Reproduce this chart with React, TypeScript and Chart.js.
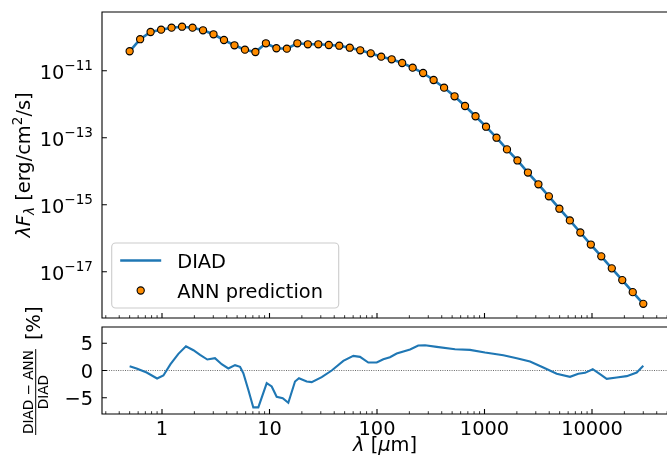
import React, { useEffect, useRef } from "react";
import { Chart, registerables } from "chart.js";
Chart.register(...registerables);

// ---------- data ----------
const wavelengths = [
  0.5, 0.626, 0.783, 0.981, 1.227, 1.536, 1.923, 2.407, 3.013, 3.771,
  4.721, 5.909, 7.396, 9.259, 11.59, 14.5, 18.16, 22.73, 28.44, 35.61,
  44.57, 55.79, 69.82, 87.41, 109.4, 136.9, 171.4, 214.6, 268.5, 336.1,
  420.7, 526.6, 659.2, 825.1, 1033, 1293, 1618, 2025, 2535, 3174,
  3972, 4972, 6223, 7790, 9750, 12200, 15280, 19120, 23930, 30000,
];
const diadFlux = [
  3.8e-11, 8.71e-11, 1.429e-10, 1.675e-10, 1.923e-10, 2.056e-10, 1.923e-10, 1.607e-10, 1.222e-10, 8.24e-11,
  5.73e-11, 4.24e-11, 3.61e-11, 6.58e-11, 4.67e-11, 4.54e-11, 6.58e-11, 6.14e-11, 6.14e-11, 5.85e-11,
  5.57e-11, 4.86e-11, 4.06e-11, 3.3e-11, 2.62e-11, 2.19e-11, 1.7e-11, 1.23e-11, 8.53e-12, 5.27e-12,
  3.11e-12, 1.72e-12, 8.83e-13, 4.36e-13, 2.13e-13, 1.0e-13, 4.47e-14, 2.09e-14, 9.12e-15, 4.07e-15,
  1.78e-15, 7.59e-16, 3.39e-16, 1.48e-16, 6.46e-17, 2.88e-17, 1.26e-17, 5.62e-18, 2.45e-18, 1.1e-18,
];
const annFlux = [
  3.8e-11, 8.71e-11, 1.429e-10, 1.675e-10, 1.923e-10, 2.056e-10, 1.923e-10, 1.607e-10, 1.222e-10, 8.24e-11,
  5.73e-11, 4.24e-11, 3.61e-11, 6.58e-11, 4.67e-11, 4.54e-11, 6.58e-11, 6.14e-11, 6.14e-11, 5.85e-11,
  5.57e-11, 4.86e-11, 4.06e-11, 3.3e-11, 2.62e-11, 2.19e-11, 1.7e-11, 1.23e-11, 8.53e-12, 5.27e-12,
  3.11e-12, 1.72e-12, 8.83e-13, 4.36e-13, 2.13e-13, 1.0e-13, 4.47e-14, 2.09e-14, 9.12e-15, 4.07e-15,
  1.78e-15, 7.59e-16, 3.39e-16, 1.48e-16, 6.46e-17, 2.88e-17, 1.26e-17, 5.62e-18, 2.45e-18, 1.1e-18,
];
const residWavelengths = [
  0.5, 0.58, 0.72, 0.9, 1.03, 1.2, 1.42, 1.67, 1.96, 2.26,
  2.64, 3.11, 3.59, 4.14, 4.78, 5.32, 5.71, 6.35, 7.07, 7.87,
  9.42, 10.48, 11.66, 13.27, 14.96, 17.27, 18.8, 22.2, 24.7, 30.6,
  37.9, 48.6, 60.2, 69.5, 83.0, 99.4, 114.5, 132, 152.5, 203,
  242, 280, 359, 532, 733, 1011, 1497, 1994, 2651, 3524,
  4695, 6243, 7460, 8610, 10160, 11870, 13700, 16980, 21030, 26060, 30000,
];
const residPercent = [
  0.8, 0.37, -0.37, -1.47, -0.92, 1.16, 3.06, 4.46, 3.73, 2.87,
  2.02, 2.26, 1.16, 0.37, 0.98, 0.67, -0.49, -3.55, -6.79, -6.79,
  -2.32, -2.94, -4.83, -5.08, -5.93, -2.02, -1.41, -2.02, -2.14, -1.22,
  0.0, 1.77, 2.69, 2.51, 1.47, 1.47, 2.08, 2.45, 3.12, 3.85,
  4.59, 4.65, 4.34, 3.91, 3.79, 3.3, 2.81, 2.26, 1.65, 0.55,
  -0.61, -1.16, -0.61, -0.43, 0.24, -0.67, -1.53, -1.28, -1.04, -0.37, 0.86,
];
const xTickValues = [1, 10, 100, 1000, 10000];
const xTickLabels = ["1", "10", "100", "1000", "10000"];
const fluxTickValues = [1e-17, 1e-15, 1e-13, 1e-11];
const fluxTickExponents = ["\u221217", "\u221215", "\u221213", "\u221211"];
const residTickValues = [-5, 0, 5];
const residTickLabels = ["\u22125", "0", "5"];
const seriesLabels = ["DIAD", "ANN prediction"];

// ---------- styling ----------
const FAM = "'DejaVu Sans', sans-serif";
const FS = 19.4;
const FSS = 13.6;
const F = (size: number, italic = false) => `${italic ? "italic " : ""}${size}px ${FAM}`;
const BLUE = "#1f77b4";
const ORANGE = "#ff8c00";

const X_MIN = 0.2766;
const X_MAX = 50930;

type Run = { text: string; font: string; dy?: number };
function runsWidth(ctx: CanvasRenderingContext2D, runs: Run[]) {
  let w = 0;
  for (const r of runs) {
    ctx.font = r.font;
    w += ctx.measureText(r.text).width;
  }
  return w;
}
function drawRuns(ctx: CanvasRenderingContext2D, runs: Run[], x: number, y: number) {
  let cx = x;
  for (const r of runs) {
    ctx.font = r.font;
    ctx.fillText(r.text, cx, y + (r.dy || 0));
    cx += ctx.measureText(r.text).width;
  }
}

function drawSpines(ctx: CanvasRenderingContext2D, a: any) {
  ctx.save();
  ctx.strokeStyle = "#000";
  ctx.lineWidth = 1.1;
  ctx.beginPath();
  ctx.rect(a.left, a.top, a.right - a.left, a.bottom - a.top);
  ctx.stroke();
  ctx.restore();
}

function drawXTicks(ctx: CanvasRenderingContext2D, xs: any, yPix: number) {
  ctx.save();
  ctx.strokeStyle = "#000";
  ctx.lineWidth = 1.1;
  ctx.beginPath();
  for (const v of xTickValues) {
    const px = xs.getPixelForValue(v);
    ctx.moveTo(px, yPix);
    ctx.lineTo(px, yPix - 4.9);
  }
  ctx.stroke();
  ctx.lineWidth = 0.8;
  ctx.beginPath();
  for (let d = -1; d <= 4; d++) {
    for (let k = 2; k <= 9; k++) {
      const v = k * Math.pow(10, d);
      if (v < X_MIN || v > X_MAX) continue;
      const px = xs.getPixelForValue(v);
      ctx.moveTo(px, yPix);
      ctx.lineTo(px, yPix - 2.8);
    }
  }
  ctx.stroke();
  ctx.restore();
}

function drawYTicks(ctx: CanvasRenderingContext2D, ys: any, xPix: number, values: number[]) {
  ctx.save();
  ctx.strokeStyle = "#000";
  ctx.lineWidth = 1.1;
  ctx.beginPath();
  for (const v of values) {
    const py = ys.getPixelForValue(v);
    ctx.moveTo(xPix, py);
    ctx.lineTo(xPix + 4.9, py);
  }
  ctx.stroke();
  ctx.restore();
}

const topPlugin = {
  id: "topDecor",
  afterDraw(chart: any) {
    const ctx: CanvasRenderingContext2D = chart.ctx;
    const a = chart.chartArea;
    const xs = chart.scales.x;
    const ys = chart.scales.y;
    drawSpines(ctx, a);
    drawXTicks(ctx, xs, a.bottom);
    drawYTicks(ctx, ys, a.left, fluxTickValues);

    ctx.save();
    ctx.fillStyle = "#000";
    ctx.textAlign = "left";
    ctx.textBaseline = "alphabetic";
    fluxTickValues.forEach((v, i) => {
      const py = ys.getPixelForValue(v);
      const runs: Run[] = [
        { text: "10", font: F(FS) },
        { text: fluxTickExponents[i], font: F(FSS), dy: -9 },
      ];
      const w = runsWidth(ctx, runs);
      drawRuns(ctx, runs, a.left - 9 - w, py + 8);
    });

    // y label
    const ylab: Run[] = [
      { text: "\u03bbF", font: F(FS, true) },
      { text: "\u03bb", font: F(FSS, true), dy: 4 },
      { text: " [erg/cm", font: F(FS) },
      { text: "2", font: F(FSS), dy: -8 },
      { text: "/s]", font: F(FS) },
    ];
    const wl = runsWidth(ctx, ylab);
    const cy = (a.top + a.bottom) / 2;
    ctx.translate(30, cy);
    ctx.rotate(-Math.PI / 2);
    drawRuns(ctx, ylab, -wl / 2, 0);
    ctx.restore();

    // legend
    const ds = chart.data.datasets;
    const lineDs = ds.find((d: any) => d.label === seriesLabels[0]);
    const ptDs = ds.find((d: any) => d.label === seriesLabels[1]);
    ctx.save();
    const bx = a.left + 9.7;
    const by = 243;
    const bw = 227;
    const bh = 65;
    ctx.globalAlpha = 0.8;
    ctx.fillStyle = "#fff";
    ctx.strokeStyle = "#cccccc";
    ctx.lineWidth = 1.1;
    ctx.beginPath();
    (ctx as any).roundRect(bx, by, bw, bh, 4);
    ctx.fill();
    ctx.globalAlpha = 1;
    ctx.stroke();
    const r1 = by + 17.5;
    const r2 = by + 47.5;
    const hx0 = bx + 8.5;
    const hx1 = hx0 + 41;
    ctx.strokeStyle = lineDs.borderColor;
    ctx.lineWidth = lineDs.borderWidth;
    ctx.beginPath();
    ctx.moveTo(hx0, r1);
    ctx.lineTo(hx1, r1);
    ctx.stroke();
    ctx.beginPath();
    ctx.arc((hx0 + hx1) / 2, r2, ptDs.pointRadius, 0, Math.PI * 2);
    ctx.fillStyle = ptDs.pointBackgroundColor;
    ctx.fill();
    ctx.strokeStyle = ptDs.pointBorderColor;
    ctx.lineWidth = ptDs.pointBorderWidth;
    ctx.stroke();
    ctx.fillStyle = "#000";
    ctx.font = F(FS);
    ctx.textBaseline = "alphabetic";
    ctx.fillText(lineDs.label, hx1 + 16, r1 + 7);
    ctx.fillText(ptDs.label, hx1 + 16, r2 + 7);
    ctx.restore();
  },
};

const bottomPlugin = {
  id: "bottomDecor",
  beforeDatasetsDraw(chart: any) {
    const ctx: CanvasRenderingContext2D = chart.ctx;
    const a = chart.chartArea;
    const py = chart.scales.y.getPixelForValue(0);
    ctx.save();
    ctx.strokeStyle = "#444";
    ctx.lineWidth = 0.8;
    ctx.setLineDash([1, 1.3]);
    ctx.beginPath();
    ctx.moveTo(a.left, py);
    ctx.lineTo(a.right, py);
    ctx.stroke();
    ctx.restore();
  },
  afterDraw(chart: any) {
    const ctx: CanvasRenderingContext2D = chart.ctx;
    const a = chart.chartArea;
    const xs = chart.scales.x;
    const ys = chart.scales.y;
    drawSpines(ctx, a);
    drawXTicks(ctx, xs, a.bottom);
    drawYTicks(ctx, ys, a.left, residTickValues);

    ctx.save();
    ctx.fillStyle = "#000";
    ctx.font = F(FS);
    ctx.textBaseline = "alphabetic";
    ctx.textAlign = "center";
    xTickValues.forEach((v, i) => {
      ctx.fillText(xTickLabels[i], xs.getPixelForValue(v), a.bottom + 21);
    });
    ctx.textAlign = "right";
    residTickValues.forEach((v, i) => {
      ctx.fillText(residTickLabels[i], a.left - 9, ys.getPixelForValue(v) + 7);
    });

    // x label
    ctx.textAlign = "left";
    const xl: Run[] = [
      { text: "\u03bb", font: F(FS, true) },
      { text: " [", font: F(FS) },
      { text: "\u03bc", font: F(FS, true) },
      { text: "m]", font: F(FS) },
    ];
    const wx = runsWidth(ctx, xl);
    drawRuns(ctx, xl, (a.left + a.right) / 2 - wx / 2, 451);

    // y label: fraction + [%]
    ctx.save();
    ctx.rotate(-Math.PI / 2);
    const num = "DIAD \u2212 ANN";
    const den = "DIAD";
    ctx.font = F(FSS);
    const nw = ctx.measureText(num).width;
    const dw = ctx.measureText(den).width;
    const barLen = Math.max(nw, dw) + 2;
    const x0 = -435;
    ctx.fillText(num, x0 + (barLen - nw) / 2, 33);
    ctx.fillText(den, x0 + (barLen - dw) / 2, 47.5);
    ctx.fillRect(x0, 35.2, barLen, 1.0);
    ctx.font = F(FS);
    ctx.fillText("[%]", -340, 40);
    ctx.restore();
    ctx.restore();
  },
};

export default function App() {
  const topRef = useRef<HTMLCanvasElement>(null);
  const botRef = useRef<HTMLCanvasElement>(null);

  useEffect(() => {
    const top = new Chart(topRef.current!, {
      type: "line",
      data: {
        datasets: [
          {
            label: seriesLabels[1],
            data: wavelengths.map((w, i) => ({ x: w, y: annFlux[i] })),
            showLine: false,
            pointRadius: 3.6,
            pointBackgroundColor: ORANGE,
            pointBorderColor: "#000",
            pointBorderWidth: 1.1,
            order: 0,
          },
          {
            label: seriesLabels[0],
            data: wavelengths.map((w, i) => ({ x: w, y: diadFlux[i] })),
            borderColor: BLUE,
            borderWidth: 2.6,
            pointRadius: 0,
            tension: 0,
            fill: false,
            order: 1,
          },
        ],
      },
      options: {
        animation: false,
        responsive: false,
        devicePixelRatio: 1,
        events: [],
        layout: { padding: { left: 102, top: 12, right: 12, bottom: 146 } },
        plugins: { legend: { display: false }, tooltip: { enabled: false } },
        scales: {
          x: { type: "logarithmic", min: X_MIN, max: X_MAX, bounds: "data", display: false },
          y: { type: "logarithmic", min: 4.15e-19, max: 5.65e-10, bounds: "data", display: false },
        },
      },
      plugins: [topPlugin],
    } as any);

    const bot = new Chart(botRef.current!, {
      type: "line",
      data: {
        datasets: [
          {
            label: "residual",
            data: residWavelengths.map((w, i) => ({ x: w, y: residPercent[i] })),
            borderColor: BLUE,
            borderWidth: 2.1,
            pointRadius: 0,
            tension: 0,
            fill: false,
          },
        ],
      },
      options: {
        animation: false,
        responsive: false,
        devicePixelRatio: 1,
        events: [],
        layout: { padding: { left: 102, top: 327, right: 12, bottom: 50 } },
        plugins: { legend: { display: false }, tooltip: { enabled: false } },
        scales: {
          x: { type: "logarithmic", min: X_MIN, max: X_MAX, bounds: "data", display: false },
          y: { type: "linear", min: -8, max: 8, display: false },
        },
      },
      plugins: [bottomPlugin],
    } as any);

    return () => {
      top.destroy();
      bot.destroy();
    };
  }, []);

  return (
    <div style={{ position: "fixed", left: 0, top: 0, width: 667, height: 464, overflow: "hidden", background: "#fff" }}>
      <canvas ref={topRef} width={680} height={464} style={{ position: "absolute", left: 0, top: 0 }} />
      <canvas ref={botRef} width={680} height={464} style={{ position: "absolute", left: 0, top: 0 }} />
    </div>
  );
}
